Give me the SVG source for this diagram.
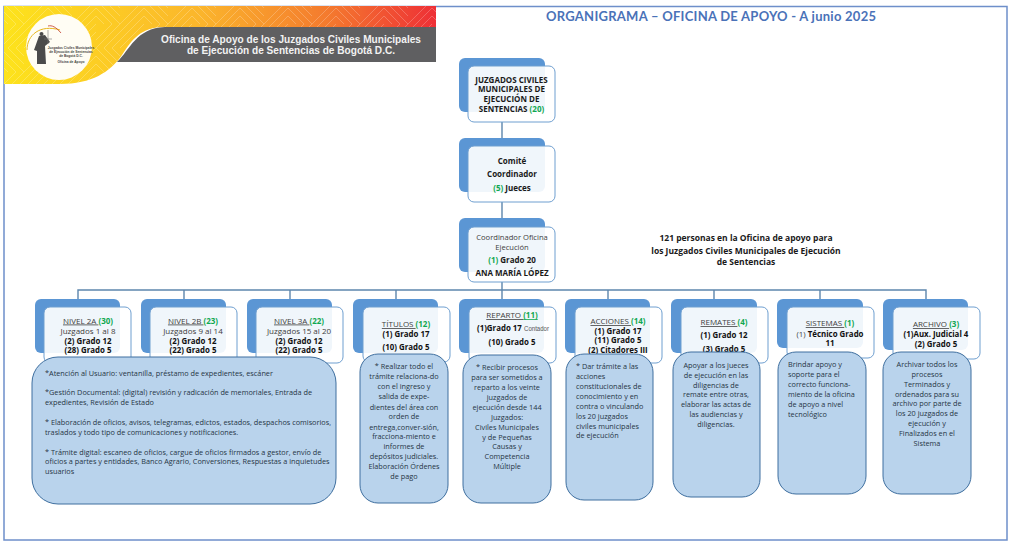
<svg xmlns="http://www.w3.org/2000/svg" width="1011" height="546" viewBox="0 0 1011 546">
<style>
text{font-family:"Open Sans","DejaVu Sans",sans-serif;fill:#222}
.back{fill:#5b96d4}
.front{fill:#fff;fill-opacity:.91;stroke:#6f9fd0;stroke-width:1}
.box{fill:#b9d3ec;stroke:#3f6f9f;stroke-width:1}
.c{text-anchor:middle}
.h{font-size:8px;font-weight:700;fill:#1a1a1a}
.n{font-size:8px;fill:#404040}
.s{font-size:7.600px;fill:#404040}
.u{text-decoration:underline}
.b{font-size:7.900px;font-weight:700;fill:#111}
.g{fill:#10a850;font-weight:700}
.t{font-size:7.300px;fill:#263545}
.line{fill:none;stroke:#5d86ad;stroke-width:1.400}
.ban{font-family:"Liberation Sans",Arial,sans-serif;font-size:10.100px;font-weight:700;fill:#f2f2f2;text-anchor:middle}
.lg{font-family:"Liberation Sans",Arial,sans-serif;font-size:3.300px;font-weight:700;fill:#444;text-anchor:middle}
.note{font-size:8.500px;font-weight:700;fill:#1a1a1a;text-anchor:middle}
</style>
<defs>
<linearGradient id="bg" x1="0" x2="1" y1="0" y2="0">
<stop offset="0" stop-color="#fde31c"/><stop offset=".45" stop-color="#fbb62c"/><stop offset=".75" stop-color="#f47a2e"/><stop offset="1" stop-color="#ee2f36"/>
</linearGradient>
<pattern id="hb" width="48" height="48" patternUnits="userSpaceOnUse">
<path d="M0 0L24 24M0 8L16 24M0 16L8 24M8 0L24 16M16 0L24 8M24 24L48 0M24 32L48 8M24 40L48 16M32 48L48 32M24 48L48 24M0 48L24 24M0 40L16 24M8 48L24 32M16 48L24 40" stroke="#fff" stroke-opacity=".32" stroke-width=".7" fill="none"/>
</pattern>
</defs>
<rect width="1011" height="546" fill="#fff"/>
<rect x="4" y="6.500" width="1003" height="533.500" fill="none" stroke="#6e8fca" stroke-width="1.500"/>
<g id="banner">
<path d="M4 6H436V27H165C140 27 132 40 122 55C110 72 92 84 60 84H4Z" fill="url(#bg)"/>
<path d="M4 6H436V27H165C140 27 132 40 122 55C110 72 92 84 60 84H4Z" fill="url(#hb)"/>
<path d="M117 62C130 50 136 28 165 27H436V62Z" fill="#5f5f61"/>
<text class="ban" x="291" y="42.500">Oficina de Apoyo de los Juzgados Civiles Municipales</text>
<text class="ban" x="291" y="53.500">de Ejecución de Sentencias de Bogotá D.C.</text>
<circle cx="59" cy="47" r="33" fill="#fffdf4"/>
<path d="M27 50C27 35 40 24 60 30" fill="none" stroke="#e8b820" stroke-width="1"/>
<path d="M48 26C52 25 56 27 61 33" fill="none" stroke="#c0392b" stroke-width=".8"/>
<path d="M39 36L34 50L37 51L37 64H46L45 46L50 42L45 35Z" fill="#4b4b4b"/>
<circle cx="41.500" cy="34" r="2" fill="#4b4b4b"/>
<path d="M48 30V44M44 39H52" stroke="#777" stroke-width=".6" fill="none"/>
<text class="lg" x="71" y="49">Juzgados Civiles Municipales</text>
<text class="lg" x="71" y="53">de Ejecución de Sentencias</text>
<text class="lg" x="71" y="57">de Bogotá D.C.</text>
<text class="lg" x="71" y="63">Oficina de Apoyo</text>
</g>
<text x="546" y="20.500" style="font-family:Lato,'Open Sans',sans-serif;font-size:13px;font-weight:700;fill:#4a72b8" textLength="330" lengthAdjust="spacing">ORGANIGRAMA – OFICINA DE APOYO - A junio 2025</text>
<g id="connectors">
<path class="line" d="M502 122V146M502 202V227M502 282V290M78 299V290H926V299M184 290V299M290 290V299M396 290V299M502 290V299M608 290V299M714 290V299M820 290V299"/>
</g>
<g id="juzgados">
<rect class="back" x="459" y="58" width="86" height="54" rx="6"/>
<rect class="front" x="468" y="66" width="87" height="56" rx="6"/>
<text class="h c" x="511.500" y="82.500">JUZGADOS CIVILES</text>
<text class="h c" x="511.500" y="92">MUNICIPALES DE</text>
<text class="h c" x="511.500" y="102">EJECUCIÓN DE</text>
<text class="h c" x="511.500" y="112">SENTENCIAS <tspan class="g">(20)</tspan></text>
</g>
<g id="comite">
<rect class="back" x="459" y="138" width="86" height="54" rx="6"/>
<rect class="front" x="468" y="146" width="87" height="56" rx="6"/>
<text class="h c" x="512" y="164">Comité</text>
<text class="h c" x="512" y="177">Coordinador</text>
<text class="h c" x="512" y="191"><tspan class="g">(5)</tspan> Jueces</text>
</g>
<g id="coordinador">
<rect class="back" x="459" y="218" width="86" height="54" rx="6"/>
<rect class="front" x="468" y="227" width="87" height="55" rx="6"/>
<text class="s c" x="512" y="240">Coordinador Oficina</text>
<text class="s c" x="512" y="250">Ejecución</text>
<text class="h c" x="512" y="263"><tspan class="g">(1)</tspan> Grado 20</text>
<text class="h c" x="512" y="276">ANA MARÍA LÓPEZ</text>
</g>
<g id="nota">
<text class="note" x="746" y="241">121 personas en la Oficina de apoyo para</text>
<text class="note" x="746" y="254">los Juzgados Civiles Municipales de Ejecución</text>
<text class="note" x="746" y="265">de Sentencias</text>
</g>
<g id="nivel2a">
<rect class="back" x="35" y="299" width="85" height="54" rx="6"/>
<rect class="front" x="44" y="307" width="87" height="56" rx="6"/>
<text class="n c" x="88" y="323.500"><tspan class="u">NIVEL 2A </tspan><tspan class="g">(30)</tspan></text>
<text class="n c" x="88" y="333.500">Juzgados 1 al 8</text>
<text class="b c" x="88" y="343.500">(2) Grado 12</text>
<text class="b c" x="88" y="353">(28) Grado 5</text>
</g>
<g id="nivel2b">
<rect class="back" x="141" y="299" width="85" height="54" rx="6"/>
<rect class="front" x="150" y="307" width="87" height="56" rx="6"/>
<text class="n c" x="193" y="323.500"><tspan class="u">NIVEL 2B </tspan><tspan class="g">(23)</tspan></text>
<text class="n c" x="193" y="333.500">Juzgados 9 al 14</text>
<text class="b c" x="193" y="343.500">(2) Grado 12</text>
<text class="b c" x="193" y="353">(22) Grado 5</text>
</g>
<g id="nivel3a">
<rect class="back" x="247" y="299" width="85" height="54" rx="6"/>
<rect class="front" x="256" y="307" width="87" height="56" rx="6"/>
<text class="n c" x="299" y="323.500"><tspan class="u">NIVEL 3A </tspan><tspan class="g">(22)</tspan></text>
<text class="n c" x="299" y="333.500">Juzgados 15 al 20</text>
<text class="b c" x="299" y="343.500">(2) Grado 12</text>
<text class="b c" x="299" y="353">(22) Grado 5</text>
</g>
<g id="funciones-nivel">
<rect class="box" x="32" y="357" width="304" height="147" rx="26"/>
<text class="t" x="45" y="376">*Atención al Usuario: ventanilla, préstamo de expedientes, escáner</text>
<text class="t" x="45" y="395">*Gestión Documental: (digital) revisión y radicación de memoriales, Entrada de</text>
<text class="t" x="45" y="405">expedientes, Revisión de Estado</text>
<text class="t" x="45" y="425">* Elaboración de oficios, avisos, telegramas, edictos, estados, despachos comisorios,</text>
<text class="t" x="45" y="435">traslados y todo tipo de comunicaciones y notificaciones.</text>
<text class="t" x="45" y="454.500">* Trámite digital: escaneo de oficios, cargue de oficios firmados a gestor, envío de</text>
<text class="t" x="45" y="464">oficios a partes y entidades, Banco Agrario, Conversiones, Respuestas a inquietudes</text>
<text class="t" x="45" y="474">usuarios</text>
</g>
<g id="titulos">
<rect class="back" x="353" y="299" width="85" height="54" rx="6"/>
<rect class="front" x="363" y="307" width="87" height="55" rx="6"/>
<text class="n c" x="406" y="327"><tspan class="u">TÍTULOS </tspan><tspan class="g">(12)</tspan></text>
<text class="b c" x="406" y="336.500">(1) Grado 17</text>
<text class="b c" x="406" y="350">(10) Grado 5</text>
<rect class="box" x="360" y="354" width="88" height="149" rx="18"/>
<text class="t c" x="404" y="369.300">* Realizar todo el</text>
<text class="t c" x="404" y="379.300">trámite relaciona-do</text>
<text class="t c" x="404" y="389.300">con el ingreso y</text>
<text class="t c" x="404" y="399.300">salida de expe-</text>
<text class="t c" x="404" y="409.500">dientes del área con</text>
<text class="t c" x="404" y="419.300">orden de</text>
<text class="t c" x="404" y="429.500">entrega,conver-sión,</text>
<text class="t c" x="404" y="439">fracciona-miento e</text>
<text class="t c" x="404" y="449">informes de</text>
<text class="t c" x="404" y="459">depósitos judiciales.</text>
<text class="t c" x="404" y="469">Elaboración Órdenes</text>
<text class="t c" x="404" y="478.500">de pago</text>
</g>
<g id="reparto">
<rect class="back" x="459" y="299" width="85" height="54" rx="6"/>
<rect class="front" x="469" y="307" width="87" height="56" rx="6"/>
<text class="n c" x="512" y="318"><tspan class="u">REPARTO </tspan><tspan class="g u">(11)</tspan></text>
<text class="b" x="477" y="331">(1)Grado 17</text>
<text x="524" y="331" style="font-family:'Liberation Sans Narrow','Liberation Sans',sans-serif;font-size:7.500px;fill:#555" textLength="25" lengthAdjust="spacingAndGlyphs">Contador</text>
<text class="b c" x="512" y="345">(10) Grado 5</text>
<rect class="box" x="463" y="355" width="88" height="148" rx="18"/>
<text class="t c" x="507" y="370.300">* Recibir procesos</text>
<text class="t c" x="507" y="380.300">para ser sometidos a</text>
<text class="t c" x="507" y="390.300">reparto a los veinte</text>
<text class="t c" x="507" y="400.300">juzgados de</text>
<text class="t c" x="507" y="410">ejecución desde 144</text>
<text class="t c" x="507" y="420">Juzgados:</text>
<text class="t c" x="507" y="430">Civiles Municipales</text>
<text class="t c" x="507" y="439.700">y de Pequeñas</text>
<text class="t c" x="507" y="449.300">Causas y</text>
<text class="t c" x="507" y="459">Competencia</text>
<text class="t c" x="507" y="468.700">Múltiple</text>
</g>
<g id="acciones">
<rect class="back" x="565" y="299" width="85" height="54" rx="6"/>
<rect class="front" x="575" y="307" width="87" height="56" rx="6"/>
<text class="n c" x="618" y="324"><tspan class="u">ACCIONES </tspan><tspan class="g">(14)</tspan></text>
<text class="b c" x="618" y="333.500">(1) Grado 17</text>
<text class="b c" x="618" y="343">(11) Grado 5</text>
<text class="b c" x="618" y="352.500">(2) Citadores III</text>
<rect class="box" x="566" y="354" width="87" height="146" rx="18"/>
<text class="t" x="576" y="369.300">* Dar trámite a las</text>
<text class="t" x="576" y="379.300">acciones</text>
<text class="t" x="576" y="389.300">constitucionales de</text>
<text class="t" x="576" y="399">conocimiento y en</text>
<text class="t" x="576" y="409">contra o vinculando</text>
<text class="t" x="576" y="418.700">los 20 juzgados</text>
<text class="t" x="576" y="428.500">civiles municipales</text>
<text class="t" x="576" y="438.300">de ejecución</text>
</g>
<g id="remates">
<rect class="back" x="671" y="299" width="86" height="54" rx="6"/>
<rect class="front" x="681" y="307" width="87" height="56" rx="6"/>
<text class="n c" x="724" y="325"><tspan class="u">REMATES </tspan><tspan class="g">(4)</tspan></text>
<text class="b c" x="724" y="338">(1) Grado 12</text>
<text class="b c" x="724" y="351.500">(3) Grado 5</text>
<rect class="box" x="673" y="352" width="87" height="145" rx="18"/>
<text class="t c" x="716" y="368">Apoyar a los jueces</text>
<text class="t c" x="716" y="377.700">de ejecución en las</text>
<text class="t c" x="716" y="387.700">diligencias de</text>
<text class="t c" x="716" y="397.300">remate entre otras,</text>
<text class="t c" x="716" y="407.300">elaborar las actas de</text>
<text class="t c" x="716" y="417">las audiencias y</text>
<text class="t c" x="716" y="427">diligencias.</text>
</g>
<g id="sistemas">
<rect class="back" x="777" y="299" width="86" height="49" rx="6"/>
<rect class="front" x="787" y="307" width="87" height="51" rx="6"/>
<text class="n c" x="830" y="326"><tspan class="u">SISTEMAS </tspan><tspan class="g">(1)</tspan></text>
<text class="b c" x="830" y="336.500"><tspan style="font-weight:400;fill:#444">(1)  </tspan>Técnico Grado</text>
<text class="b c" x="830" y="346">11</text>
<rect class="box" x="778" y="352" width="88" height="142" rx="18"/>
<text class="t" x="788" y="367.300">Brindar apoyo y</text>
<text class="t" x="788" y="377.300">soporte para el</text>
<text class="t" x="788" y="387.300">correcto funciona-</text>
<text class="t" x="788" y="397">miento de la oficina</text>
<text class="t" x="788" y="407">de apoyo a nivel</text>
<text class="t" x="788" y="416.700">tecnológico</text>
</g>
<g id="archivo">
<rect class="back" x="883" y="299" width="85" height="51" rx="6"/>
<rect class="front" x="893" y="307" width="87" height="52" rx="6"/>
<text class="n c" x="936" y="327"><tspan class="u">ARCHIVO  </tspan><tspan class="g">(3)</tspan></text>
<text class="b c" x="936" y="337">(1)Aux. Judicial 4</text>
<text class="b c" x="936" y="346.500">(2) Grado 5</text>
<rect class="box" x="883" y="352" width="88" height="142" rx="18"/>
<text class="t c" x="927" y="367">Archivar todos los</text>
<text class="t c" x="927" y="376.700">procesos</text>
<text class="t c" x="927" y="386.700">Terminados y</text>
<text class="t c" x="927" y="396.700">ordenados  para su</text>
<text class="t c" x="927" y="406.300">archivo por parte de</text>
<text class="t c" x="927" y="416.300">los 20 juzgados de</text>
<text class="t c" x="927" y="426.300">ejecución y</text>
<text class="t c" x="927" y="436.300">Finalizados en el</text>
<text class="t c" x="927" y="446">Sistema</text>
</g>
</svg>
